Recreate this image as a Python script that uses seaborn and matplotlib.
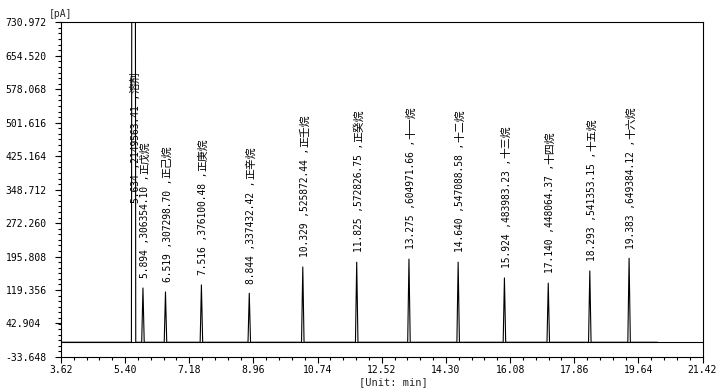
import matplotlib
matplotlib.use('Agg')
import matplotlib.pyplot as plt
import seaborn as sns
import pandas as pd
from matplotlib.ticker import FixedLocator

# retention time (min), peak height (pA), area, compound
times = [5.634, 5.894, 6.519, 7.516, 8.844, 10.329, 11.825, 13.275, 14.640, 15.924, 17.140, 18.293, 19.383]
heights = [5000, 124, 115, 131, 112, 172, 183, 190, 183, 147, 135, 163, 192]
areas = ['2149563.41', '306354.10', '307298.70', '376100.48', '337432.42', '525872.44', '572826.75',
         '604971.66', '547088.58', '483983.23', '448064.37', '541353.15', '649384.12']
names = ['溶剂', '正戊烷', '正己烷', '正庚烷', '正辛烷', '正壬烷', '正癸烷',
         '十一烷', '十二烷', '十三烷', '十四烷', '十五烷', '十六烷']
half_widths = [0.06, 0.035, 0.035, 0.035, 0.035, 0.035, 0.035, 0.035, 0.035, 0.035, 0.035, 0.035, 0.035]
run_start, run_end = 3.62, 20.17

x_ticks = [3.62, 5.40, 7.18, 8.96, 10.74, 12.52, 14.30, 16.08, 17.86, 19.64, 21.42]
y_labels = ['-33.648', '42.904', '119.356', '195.808', '272.260', '348.712',
            '425.164', '501.616', '578.068', '654.520', '730.972']

# build the chromatogram trace: flat baseline with a narrow spike per peak
tx, ty = [run_start], [0.0]
for t, h, w in zip(times, heights, half_widths):
    tx += [t - w, t, t + w]
    ty += [0.0, h, 0.0]
tx.append(run_end)
ty.append(0.0)
trace = pd.DataFrame({'time': tx, 'signal': ty})

sns.set_theme(style='white')
plt.rcParams['font.family'] = ['DejaVu Sans Mono', 'Noto Sans CJK SC']

fig = plt.figure(figsize=(7.28, 3.91), dpi=100)
ax = fig.add_axes([61 / 728, 1 - 357 / 391, 641.5 / 728, 334.7 / 391])

ax.axhline(0, color='black', lw=0.8)
sns.lineplot(data=trace, x='time', y='signal', sort=False, estimator=None,
             color='black', lw=0.8, ax=ax)

# peak labels: numbers in mono, compound name in CJK font right after
for t, h, a, n in zip(times, heights, areas, names):
    num = ax.annotate(f'{t:.3f} ,{a} ,', xy=(t, min(h, 318)), xytext=(1.5, 0 if h > 318 else 7),
                      textcoords='offset points', rotation=90, ha='center', va='bottom',
                      fontsize=6.9, color='black', family='DejaVu Sans Mono')
    ax.annotate(n, xy=(0.5, 1), xycoords=num, xytext=(0, 0.5), textcoords='offset points',
                rotation=90, ha='center', va='bottom', fontsize=7.8, color='black',
                family='Noto Sans CJK SC')

y_vals = [float(v) for v in y_labels]
ax.set_xlim(x_ticks[0], x_ticks[-1])
ax.set_ylim(y_vals[0], y_vals[-1])

ax.set_xticks(x_ticks)
ax.set_xticklabels([f'{v:.2f}' for v in x_ticks])
ax.xaxis.set_minor_locator(FixedLocator([x_ticks[0] + i * 0.356 for i in range(51)]))
ax.set_yticks(y_vals)
ax.set_yticklabels(y_labels)
ax.yaxis.set_minor_locator(FixedLocator([y_vals[0] + i * 76.452 / 6 for i in range(61)]))

ax.tick_params(axis='both', which='major', direction='out', length=4, width=0.8,
               color='black', labelsize=7, labelcolor='black')
ax.tick_params(axis='both', which='minor', direction='out', length=2, width=0.8, color='black')
ax.tick_params(axis='x', which='both', bottom=True, pad=1.5)
ax.tick_params(axis='y', which='both', left=True, pad=36)
for lab in ax.get_yticklabels():
    lab.set_horizontalalignment('left')

for s in ax.spines.values():
    s.set_color('black')
    s.set_linewidth(0.8)

ax.set_xlabel('')
ax.set_ylabel('')
fig.text(61 / 728, 1 - 14 / 391, '[pA]', ha='center', va='center', fontsize=7)
fig.text(393 / 728, 1 - 382 / 391, '[Unit: min]', ha='center', va='center', fontsize=7.5)

fig.savefig('out.png', dpi=100, facecolor='white')
